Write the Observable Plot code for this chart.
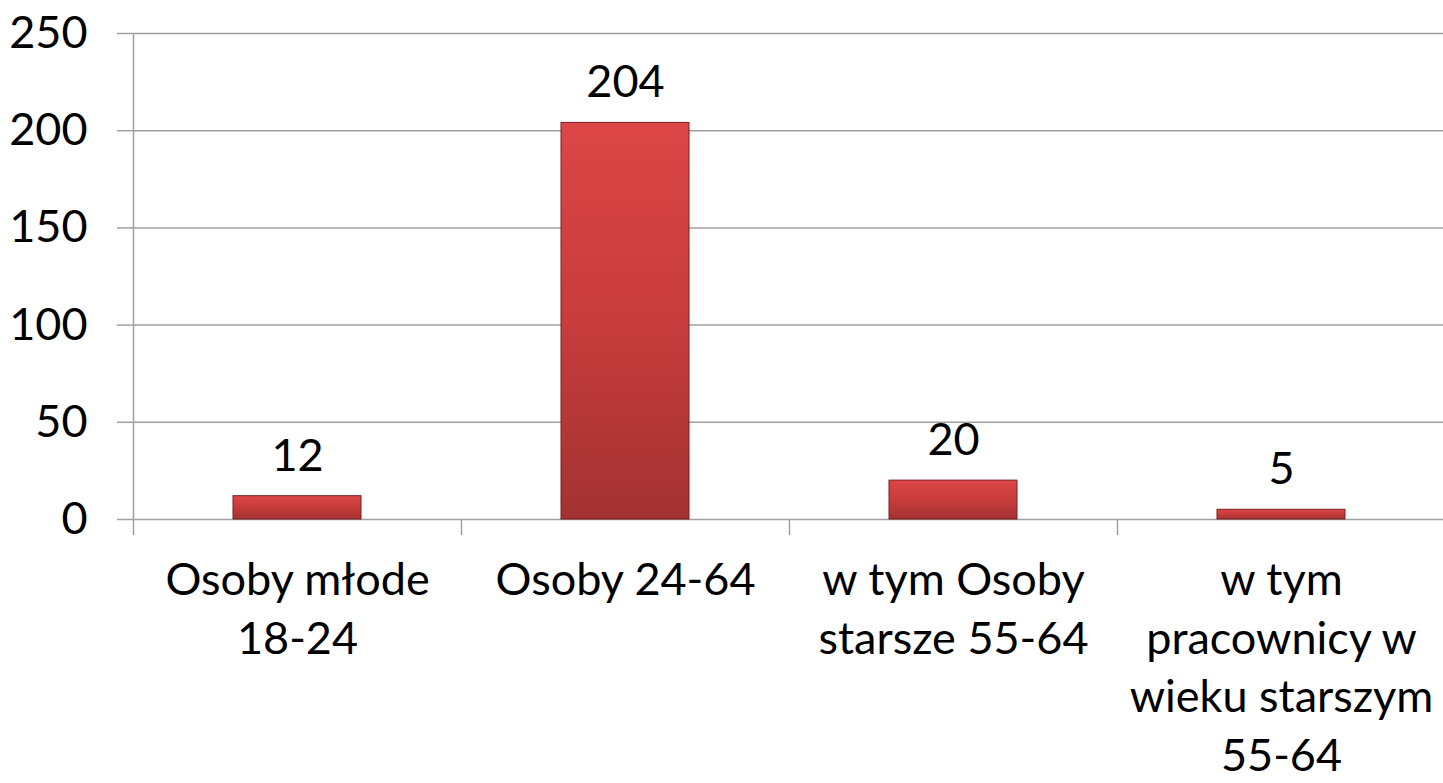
<!DOCTYPE html>
<html>
<head>
<meta charset="utf-8">
<script src="https://cdn.jsdelivr.net/npm/d3@7"></script>
<script src="https://cdn.jsdelivr.net/npm/@observablehq/plot@0.6"></script>
<style>
  html, body { margin: 0; padding: 0; background: #fff; }
  #chart svg { display: block; }
</style>
</head>
<body>
<div id="chart"></div>
<script>
const categories = ["Osoby młode 18-24", "Osoby 24-64", "w tym Osoby starsze 55-64", "w tym pracownicy w wieku starszym 55-64"];
const labels = ["Osoby młode\n18-24", "Osoby 24-64", "w tym Osoby\nstarsze 55-64", "w tym\npracownicy w\nwieku starszym\n55-64"];
const values = [12, 204, 20, 5];
const yTicks = [0, 50, 100, 150, 200, 250];

const data = categories.map((c, i) => ({category: c, value: values[i]}));
const labelOf = new Map(categories.map((c, i) => [c, labels[i]]));

const W = 1443, H = 783;
const mL = 133, mR = -2;
const step = (W - mL - mR) / categories.length;
const FONT = "Lato, 'Open Sans', sans-serif";
const FS = 45;
const GRID = "#a0a0a0";

const plot = Plot.plot({
  width: W,
  height: H,
  marginLeft: mL,
  marginRight: mR,
  marginTop: 33,
  marginBottom: 264,
  style: {fontFamily: FONT, fontSize: FS + "px", color: "#000", background: "#fff", overflow: "visible"},
  x: {domain: categories, paddingInner: 0.61, paddingOuter: 0.305, align: 0.5},
  y: {domain: [0, 250]},
  marks: [
    Plot.gridY(yTicks, {stroke: GRID, strokeOpacity: 1, strokeWidth: 1.5}),
    Plot.axisY(yTicks, {tickSize: 16, tickPadding: 30, stroke: GRID, strokeWidth: 1.5, fill: "#000", fontSize: FS, label: null}),
    Plot.ruleX([categories[0]], {x: d => d, dx: -step / 2, y1: 0, y2: 250, stroke: GRID, strokeWidth: 1.5}),
    Plot.axisX({tickSize: 16, text: null, dx: -step / 2, stroke: GRID, strokeWidth: 1.5, label: null}),
    Plot.axisX({tickSize: 0, tickPadding: 34, tickFormat: d => labelOf.get(d), lineHeight: 1.3, fill: "#000", fontSize: FS, label: null}),
    Plot.barY(data, {x: "category", y: "value", fill: "url(#barGrad)", stroke: "#7a2020", strokeWidth: 1}),
    Plot.text(data, {x: "category", y: "value", text: d => String(d.value), dy: -40, fontSize: FS, fill: "#000"})
  ]
});

const ns = "http://www.w3.org/2000/svg";
const defs = document.createElementNS(ns, "defs");
const grad = document.createElementNS(ns, "linearGradient");
grad.setAttribute("id", "barGrad");
grad.setAttribute("x1", "0"); grad.setAttribute("y1", "0");
grad.setAttribute("x2", "0"); grad.setAttribute("y2", "1");
[["0", "#dc4646"], ["0.5", "#c83c3c"], ["1", "#a33232"]].forEach(([o, c]) => {
  const s = document.createElementNS(ns, "stop");
  s.setAttribute("offset", o); s.setAttribute("stop-color", c);
  grad.appendChild(s);
});
defs.appendChild(grad);
plot.insertBefore(defs, plot.firstChild);

document.getElementById("chart").appendChild(plot);
</script>
</body>
</html>
